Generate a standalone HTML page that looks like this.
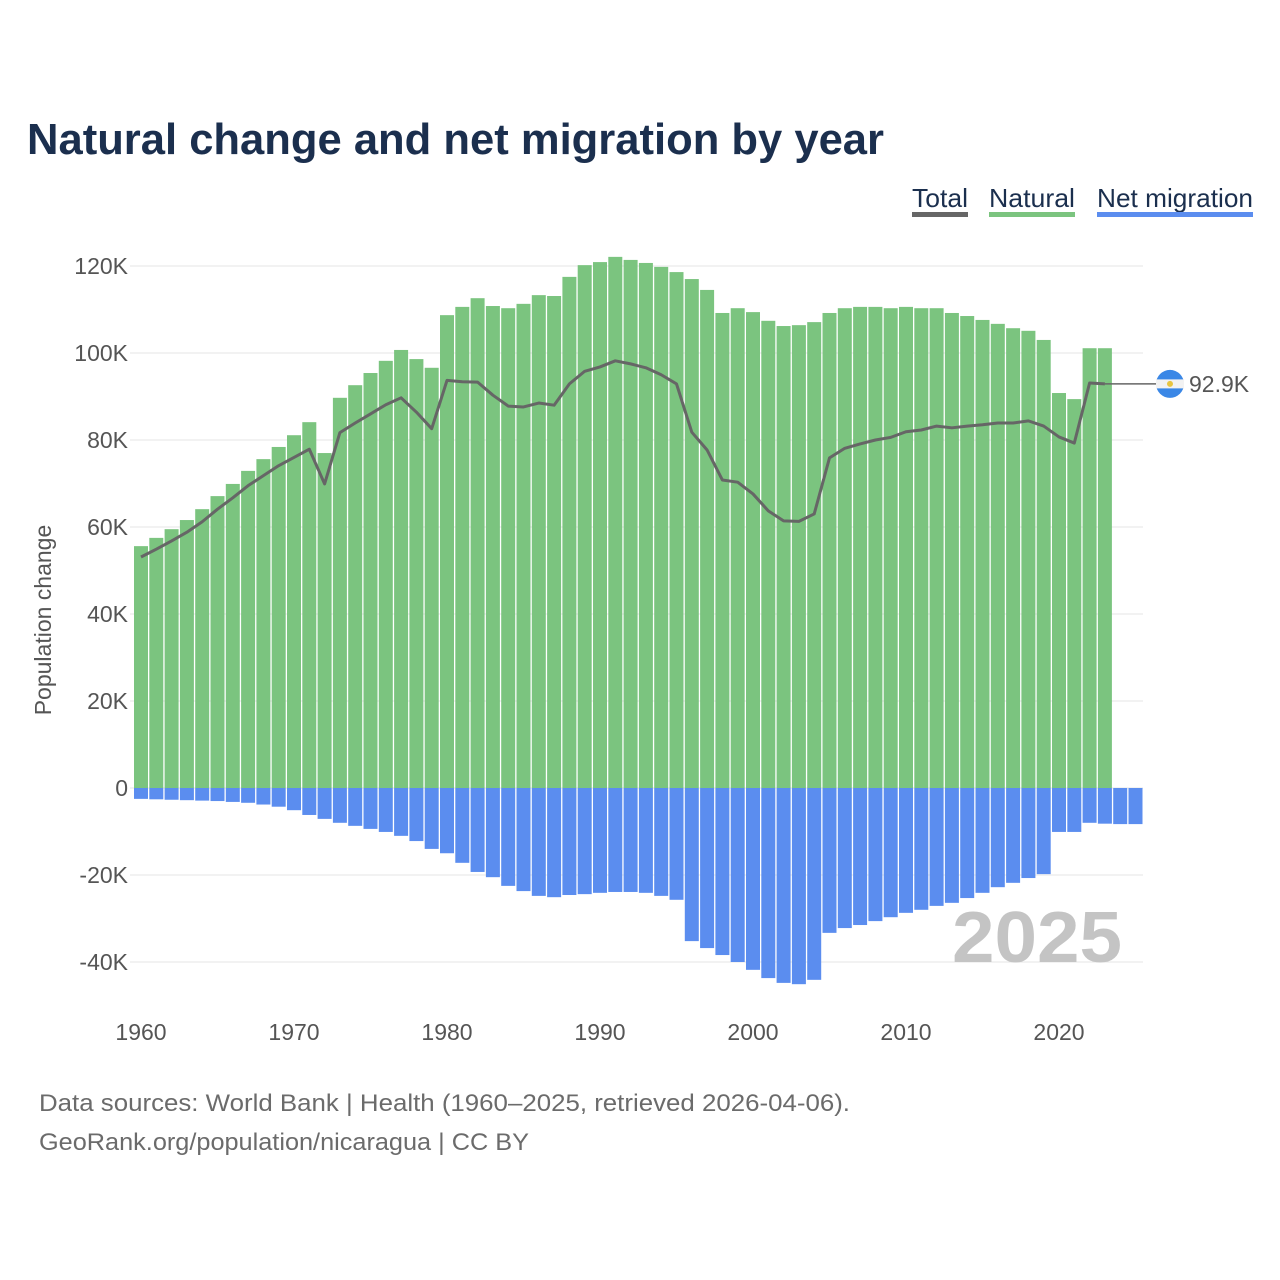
<!DOCTYPE html>
<html><head><meta charset="utf-8"><style>
body{margin:0;background:#fff;font-family:"Liberation Sans",sans-serif}
#wrap{position:relative;width:1280px;height:1280px;overflow:hidden}
</style></head><body>
<div id="wrap">
<svg id="chart" width="1280" height="1280" font-family="Liberation Sans, sans-serif"></svg>
</div>
<script>
const years=[];for(let y=1960;y<=2025;y++)years.push(y);
const natural=[55.6,57.5,59.5,61.6,64.1,67.1,69.9,72.9,75.6,78.4,81.1,84.1,77.0,89.7,92.6,95.4,98.2,100.7,98.6,96.6,108.7,110.6,112.6,110.8,110.3,111.3,113.3,113.1,117.5,120.2,120.9,122.1,121.4,120.7,119.8,118.6,117.0,114.5,109.2,110.3,109.4,107.4,106.2,106.4,107.1,109.2,110.3,110.6,110.6,110.3,110.6,110.3,110.3,109.2,108.5,107.6,106.7,105.7,105.1,103.0,90.8,89.4,101.1,101.1,null,null];
const migration=[-2.5,-2.6,-2.7,-2.8,-2.9,-3.0,-3.2,-3.4,-3.8,-4.3,-5.1,-6.2,-7.1,-8.0,-8.7,-9.4,-10.1,-11.0,-12.2,-14.0,-15.0,-17.2,-19.3,-20.5,-22.5,-23.7,-24.8,-25.1,-24.6,-24.4,-24.1,-23.9,-23.9,-24.1,-24.8,-25.7,-35.2,-36.8,-38.4,-40.0,-41.8,-43.7,-44.8,-45.1,-44.1,-33.3,-32.2,-31.5,-30.6,-29.7,-28.7,-28.0,-27.1,-26.4,-25.3,-24.1,-22.8,-21.8,-20.7,-19.8,-10.1,-10.1,-8.0,-8.2,-8.3,-8.3];
const yTicks=[-40,-20,0,20,40,60,80,100,120];
const yTickLabels=["-40K","-20K","0","20K","40K","60K","80K","100K","120K"];
const xTicks=[1960,1970,1980,1990,2000,2010,2020];

const NS="http://www.w3.org/2000/svg";
const svg=document.getElementById('chart');
const yS=v=>788-v*4.35;
const xS=y=>141+(y-1960)*15.3;
function mk(tag,attrs,parent){const e=document.createElementNS(NS,tag);for(const k in attrs)e.setAttribute(k,attrs[k]);(parent||svg).appendChild(e);return e;}
function txt(s,attrs){const e=mk('text',attrs);e.textContent=s;return e;}

let t=txt("Natural change and net migration by year",{x:27,y:154,'font-size':44,'font-weight':'bold',fill:'#1b2f4e',textLength:857,lengthAdjust:'spacingAndGlyphs'});


const leg=[["Total","#666",912,968],["Natural","#7bc47f",989,1075],["Net migration","#5b8def",1097,1253]];
leg.forEach(l=>{const g=mk('g',{});


const tt=mk('text',{x:l[2],y:207,'font-size':26,fill:'#1b2f4e',textLength:l[3]-l[2],lengthAdjust:'spacingAndGlyphs'},g);tt.textContent=l[0];
mk('rect',{x:l[2],y:212,width:l[3]-l[2],height:5,fill:l[1]},g);});

yTicks.forEach((v,i)=>{
const g=mk('line',{x1:130,x2:1143,y1:yS(v),y2:yS(v),stroke:'#e6e6e6','stroke-width':1});

const l=txt(yTickLabels[i],{x:128,y:yS(v)+8,'text-anchor':'end','font-size':23,fill:'#555'});
});
xTicks.forEach(y=>{const l=txt(String(y),{x:xS(y),y:1040,'text-anchor':'middle','font-size':23,fill:'#555'});
});

const yt=txt("Population change",{x:0,y:0,'text-anchor':'middle','font-size':23,fill:'#555',transform:'translate(51,620) rotate(-90)'});


const wm=txt("2025",{x:1122,y:962,'text-anchor':'end','font-size':72,'font-weight':'bold',fill:'#c4c4c4',textLength:170,lengthAdjust:'spacingAndGlyphs'});


const bw=14;
years.forEach((y,i)=>{
if(natural[i]!=null){const r=mk('rect',{x:xS(y)-bw/2,y:yS(natural[i]),width:bw,height:yS(0)-yS(natural[i]),fill:'#7bc47f'});
}
if(migration[i]!=null){const r=mk('rect',{x:xS(y)-bw/2,y:yS(0),width:bw,height:yS(migration[i])-yS(0),fill:'#5b8def'});
}
});
let pts=[],last=null;
years.forEach((y,i)=>{if(natural[i]!=null&&migration[i]!=null){const v=natural[i]+migration[i];pts.push(xS(y)+','+yS(v));last=[xS(y),yS(v),v];}});
const pl=mk('polyline',{points:pts.join(' '),fill:'none',stroke:'#666','stroke-width':3,'stroke-linejoin':'round'});

const cl=mk('line',{x1:last[0],x2:1157,y1:last[1],y2:last[1],stroke:'#666','stroke-width':1.5});

const fg=mk('g',{});
mk('circle',{cx:1170,cy:last[1],r:14,fill:'#3a87e6'},fg);
mk('rect',{x:1156,y:last[1]-4.5,width:28,height:9,fill:'#f2f2f2'},fg);
mk('circle',{cx:1170,cy:last[1],r:3,fill:'#e8c540'},fg);
const el=txt((Math.round(last[2]*10)/10).toFixed(1)+"K",{x:1189,y:last[1]+8,'font-size':23,fill:'#555'});


const f1=txt("Data sources: World Bank | Health (1960–2025, retrieved 2026-04-06).",{x:39,y:1111,'font-size':24,fill:'#6b6b6b',textLength:811,lengthAdjust:'spacingAndGlyphs'});

const f2=txt("GeoRank.org/population/nicaragua | CC BY",{x:39,y:1150,'font-size':24,fill:'#6b6b6b',textLength:490,lengthAdjust:'spacingAndGlyphs'});

</script>
</body></html>
